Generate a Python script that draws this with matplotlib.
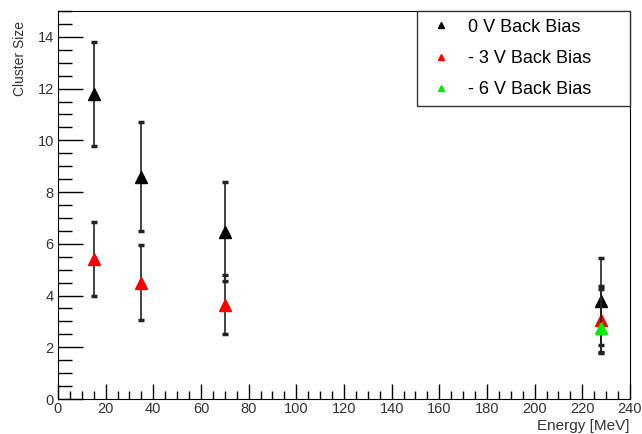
import matplotlib.pyplot as plt
import numpy as np
from matplotlib.ticker import MultipleLocator

plt.rcParams['font.family'] = ['Liberation Sans', 'DejaVu Sans']

energy_0v = [15, 35, 70, 228]
size_0v = [11.8, 8.6, 6.47, 3.77]
err_0v = [2.0, 2.1, 1.92, 1.68]

energy_3v = [15, 35, 70, 228]
size_3v = [5.4, 4.5, 3.64, 3.06]
err_3v = [1.43, 1.45, 1.14, 1.3]

energy_6v = [228]
size_6v = [2.75]
err_6v_low = [0.95]
err_6v_high = [1.5]

series = [
    ("0 V Back Bias", energy_0v, size_0v, err_0v, "black"),
    ("- 3 V Back Bias", energy_3v, size_3v, err_3v, "red"),
    ("- 6 V Back Bias", energy_6v, size_6v, [err_6v_low, err_6v_high], "#00ee00"),
]

fig = plt.figure(figsize=(6.42, 4.34), dpi=100)
ax = fig.add_axes([0.0903, 0.0806, 0.8910, 0.8941])

for label, x, y, e, color in series:
    ax.errorbar(x, y, yerr=e, fmt='none', ecolor='#222222', elinewidth=1.2,
                capsize=2, capthick=2.5)
    ax.plot(x, y, linestyle='none', marker='^', markersize=8, color=color,
            label=label)

ax.set_xlim(0, 240)
ax.set_ylim(0, 15)
ax.xaxis.set_major_locator(MultipleLocator(20))
ax.xaxis.set_minor_locator(MultipleLocator(5))
ax.yaxis.set_major_locator(MultipleLocator(2))
ax.yaxis.set_minor_locator(MultipleLocator(0.5))
ax.tick_params(axis='both', which='both', direction='in', colors='black',
               labelcolor='#333333', labelsize=10.5)
ax.tick_params(axis='y', which='major', length=18, width=1)
ax.tick_params(axis='y', which='minor', length=10, width=1)
ax.tick_params(axis='x', which='major', length=11, width=1)
ax.tick_params(axis='x', which='minor', length=6, width=1)
ax.tick_params(axis='x', pad=2)
ax.tick_params(axis='y', pad=3)

ax.set_ylabel("Cluster Size", fontsize=10, color='#333333')
ax.yaxis.set_label_coords(-0.054, 0.974)
ax.yaxis.label.set_horizontalalignment('right')
ax.set_xlabel("Energy [MeV]", fontsize=11, color='#333333')
ax.xaxis.set_label_coords(1.0, -0.052)
ax.xaxis.label.set_horizontalalignment('right')

# legend box spans from x=417px to the right spine
leg = ax.legend(loc='upper right', bbox_to_anchor=(0.6276, 0.0, 0.3724, 1.0),
                mode='expand', fancybox=False, edgecolor='#333333', framealpha=1,
                fontsize=13, markerscale=0.6, borderaxespad=0,
                handletextpad=0.61, labelspacing=0.8, borderpad=0.42,
                handlelength=1.8)
leg.get_frame().set_linewidth(1)

plt.savefig("out.png")
